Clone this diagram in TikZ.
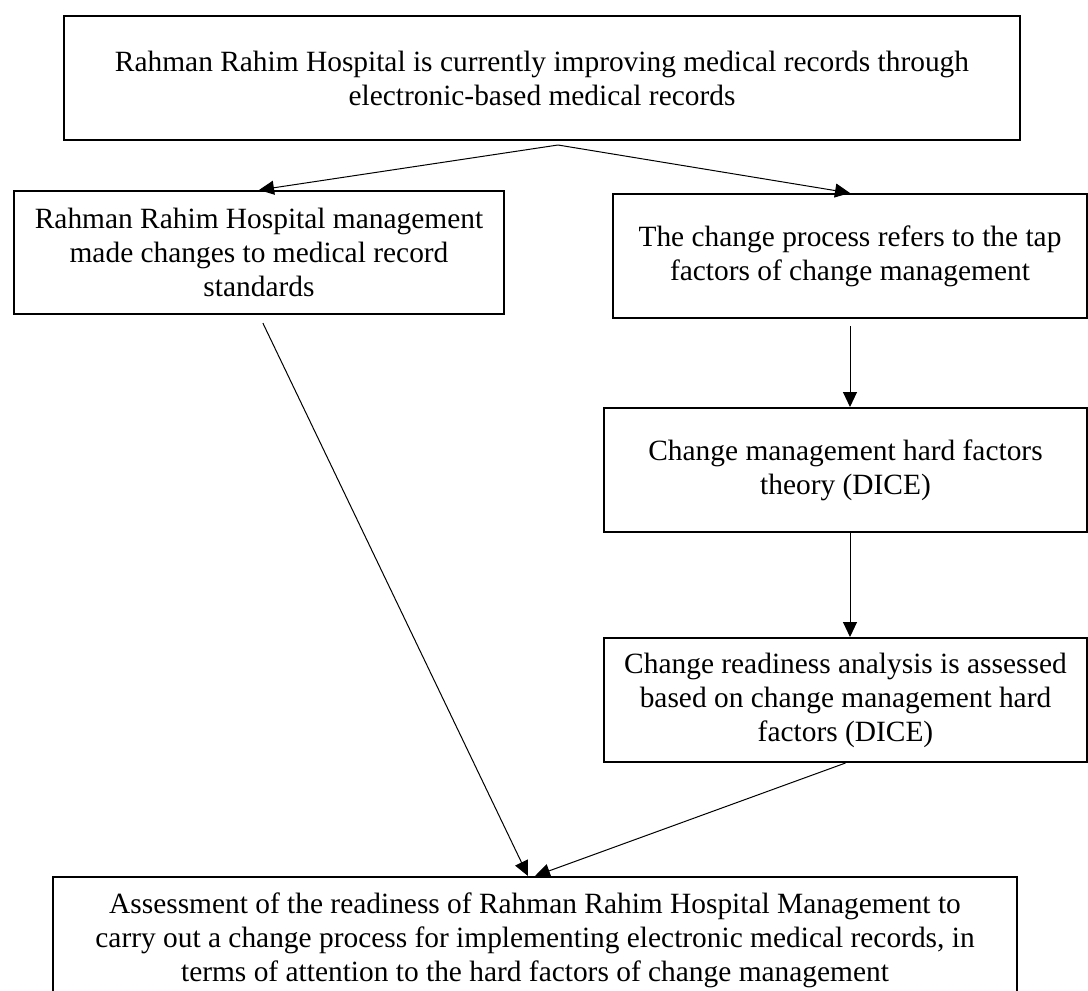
\documentclass[tikz,border=0pt]{standalone}
\usepackage{fontspec}
\setmainfont{Liberation Serif}
\usetikzlibrary{arrows.meta, positioning, calc}

\begin{document}
\begin{tikzpicture}[
    x=0.5pt, y=-0.5pt,
    box/.style={rectangle, draw=black, line width=1pt,
                minimum height=62pt, align=center, inner sep=2pt,
                font=\fontsize{14.7}{17}\selectfont},
    arr/.style={-{Triangle[length=7.5pt, width=7pt]}, line width=0.5pt}
  ]
  \useasboundingbox (0,0) rectangle (1088,991);

  \node[box, minimum width=478pt] (top) at (542,78)
    {Rahman Rahim Hospital is currently improving medical records through\\
     electronic-based medical records};
  \node[box, minimum width=245pt, minimum height=61.5pt] (std) at (259,252.5)
    {Rahman Rahim Hospital management\\ made changes to medical record\\ standards};
  \node[box, minimum width=237pt] (chg) at (850,256)
    {The change process refers to the tap\\ factors of change management};
  \node[box, minimum width=241.5pt, below=44pt of chg, xshift=-2.25pt] (dice)
    {Change management hard factors\\ theory (DICE)};
  \node[box, minimum width=241.5pt, below=52pt of dice] (ready)
    {Change readiness analysis is assessed\\ based on change management hard\\
     factors (DICE)};
  \node[box, minimum width=482pt, minimum height=63pt] (assess) at (535,940)
    {Assessment of the readiness of Rahman Rahim Hospital Management to\\
     carry out a change process for implementing electronic medical records, in\\
     terms of attention to the hard factors of change management};

  % split point under the top box
  \coordinate (split) at ($(top.south)+(16,4)$);

  \draw[arr] (split) -- (std.north);
  \draw[arr] (split) -- (chg.north);
  \draw[arr, shorten <=3.5pt] (chg.south) -- (chg.south |- dice.north);
  \draw[arr] (chg.south |- dice.south) -- (chg.south |- ready.north);
  \draw[arr, shorten <=4.5pt] (std.south) -- ($(assess.north)+(-7,0)$);
  \draw[arr] (ready.south) -- (assess.north);
\end{tikzpicture}
\end{document}
